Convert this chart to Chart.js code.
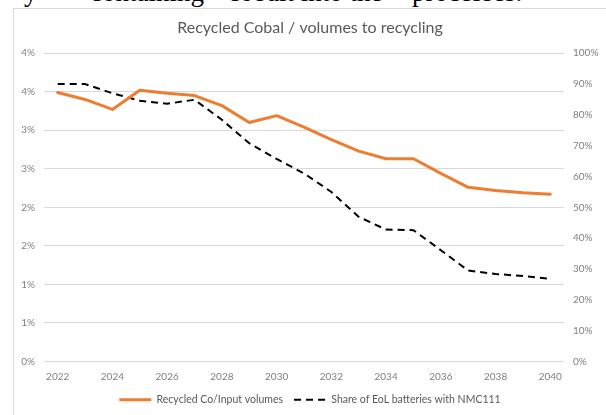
<!DOCTYPE html>
<html>
<head>
<meta charset="utf-8">
<title>Recycled Cobal / volumes to recycling</title>
<script src="https://cdn.jsdelivr.net/npm/chart.js@4/dist/chart.umd.min.js"></script>
<style>
  html, body { margin: 0; padding: 0; background: #fff; }
  body { width: 606px; height: 415px; position: relative; overflow: hidden; }
  /* last line of the paragraph above the figure, mostly scrolled off */
  .prose { position: absolute; top: -21px; left: 0; width: 606px; height: 30px;
           font-family: "Liberation Serif", serif; font-size: 27px; line-height: 27px; color: #000; }
  .prose span { position: absolute; top: 0; white-space: nowrap; }
  .frame { position: absolute; left: 13px; top: 8px; width: 593px; height: 407px;
           border-left: 1px solid #d9d9d9; border-top: 1px solid #d9d9d9; background: #fff; }
  #chart { display: block; }
</style>
</head>
<body>
<div class="prose">
  <span style="left:24px">y</span>
  <span style="left:90px">containing</span>
  <span style="left:228px">cobalt into the</span>
  <span style="left:412px">processes.</span>
</div>
<div class="frame">
  <canvas id="chart" width="592" height="406"></canvas>
</div>
<script>
/* Data: share of recycled cobalt vs. input volumes (left axis, %)
   and share of end-of-life batteries that are NMC111 (right axis, %) */
var years = ['2022', '2023', '2024', '2025', '2026', '2027', '2028', '2029', '2030', '2031',
             '2032', '2033', '2034', '2035', '2036', '2037', '2038', '2039', '2040'];

var recycledCo = [3.49, 3.40, 3.27, 3.52, 3.48, 3.45, 3.32, 3.10, 3.19, 3.04,
                  2.88, 2.73, 2.63, 2.63, 2.44, 2.26, 2.22, 2.19, 2.17];

var nmc111Share = [90, 90, 87, 84.6, 83.6, 84.9, 78.4, 70.8, 65.7, 61,
                   55, 46.9, 42.8, 42.6, 36.1, 29.5, 28.4, 27.7, 26.8];

/* Left axis runs in half-percent steps but is formatted with no decimals */
var leftTickLabels = ['0%', '1%', '1%', '2%', '2%', '3%', '3%', '4%', '4%'];
var rightTickLabels = ['0%', '10%', '20%', '30%', '40%', '50%', '60%', '70%', '80%', '90%', '100%'];

var FONT = 'Lato, "Open Sans", sans-serif';
var GREY = '#808080';

/* Legend samples: with usePointStyle the default items take the point style,
   so copy the dataset's own line width and dash back onto each item */
function lineLegendLabels(chart) {
    var items = Chart.defaults.plugins.legend.labels.generateLabels(chart);
    items.forEach(function(item) {
        var ds = chart.data.datasets[item.datasetIndex];
        item.lineDash = ds.borderDash || [];
        item.lineWidth = ds.borderWidth;
        item.strokeStyle = ds.borderColor;
        item.fillStyle = ds.borderColor;
    });
    return items;
}

var ctx = document.getElementById('chart');
var myChart = new Chart(ctx, {
    type: 'line',
    data: {
        labels: years,
        datasets: [{
            label: 'Recycled Co/Input volumes',
            data: recycledCo,
            yAxisID: 'yLeft',
            borderColor: '#ED7D31',
            backgroundColor: '#ED7D31',
            borderWidth: 3,
            pointRadius: 0,
            pointHoverRadius: 0,
            fill: false,
            tension: 0,
            borderCapStyle: 'round',
            borderJoinStyle: 'round'
        }, {
            label: 'Share of EoL batteries with NMC111',
            data: nmc111Share,
            yAxisID: 'yRight',
            borderColor: '#000000',
            backgroundColor: '#000000',
            borderWidth: 2,
            borderDash: [7, 5],
            pointRadius: 0,
            pointHoverRadius: 0,
            fill: false,
            tension: 0
        }]
    },
    options: {
        responsive: false,
        animation: false,
        devicePixelRatio: 1,
        layout: { padding: 0 },
        plugins: {
            title: {
                display: true,
                text: 'Recycled Cobal / volumes to recycling',
                color: '#595959',
                font: { family: FONT, size: 16, weight: 'normal' },
                padding: { top: 9, bottom: 16 }
            },
            legend: {
                position: 'bottom',
                maxHeight: 33,
                labels: {
                    color: '#595959',
                    font: { family: FONT, size: 10.5 },
                    usePointStyle: true,
                    pointStyle: 'line',
                    pointStyleWidth: 32,
                    padding: 11,
                    generateLabels: lineLegendLabels
                }
            },
            tooltip: { enabled: false }
        },
        scales: {
            x: {
                offset: true,
                grid: { display: false, drawTicks: false },
                border: { display: false },
                /* tall enough that the year labels are not clipped */
                afterFit: function(scale) { scale.height = 22; },
                ticks: {
                    autoSkip: false,
                    maxRotation: 0,
                    padding: 9,
                    color: GREY,
                    font: { family: FONT, size: 10 },
                    callback: function(value, index) { return index % 2 === 0 ? years[index] : ''; }
                }
            },
            yLeft: {
                position: 'left',
                min: 0,
                max: 4,
                afterFit: function(scale) { scale.width = 30; },
                grid: { color: '#d9d9d9', lineWidth: 1, drawTicks: false },
                border: { display: false },
                ticks: {
                    stepSize: 0.5,
                    padding: 9,
                    color: GREY,
                    font: { family: FONT, size: 10 },
                    callback: function(value, index) { return leftTickLabels[index]; }
                }
            },
            yRight: {
                position: 'right',
                min: 0,
                max: 100,
                afterFit: function(scale) { scale.width = 42; },
                grid: { display: false, drawTicks: false },
                border: { display: false },
                ticks: {
                    stepSize: 10,
                    padding: 9,
                    color: GREY,
                    font: { family: FONT, size: 10 },
                    callback: function(value, index) { return rightTickLabels[index]; }
                }
            }
        }
    }
});
</script>
</body>
</html>
